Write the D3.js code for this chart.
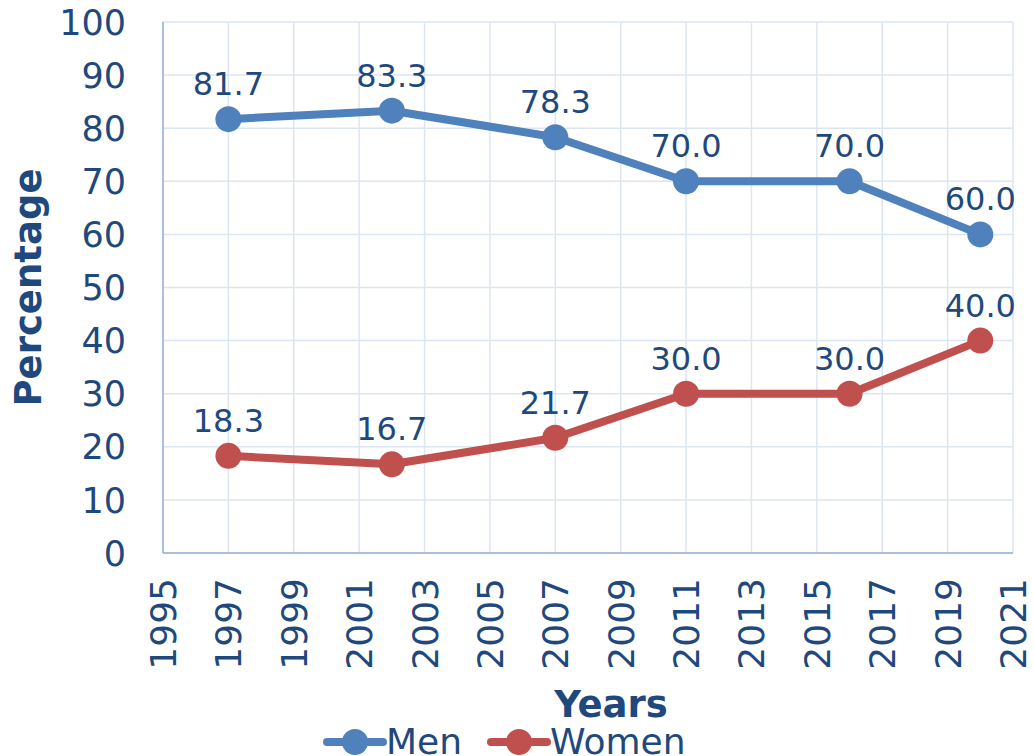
<!DOCTYPE html>
<html>
<head>
<meta charset="utf-8">
<script src="https://cdn.jsdelivr.net/npm/d3@7"></script>
<style>
  body { margin: 0; background: #fff; }
  text { font-family: 'DejaVu Sans', Verdana, sans-serif; fill: #1F497D; }
</style>
</head>
<body>
<div class="vis"></div>
<script>
'use strict';

// survey years and shares (%)
var years = [1997, 2002, 2007, 2011, 2016, 2020];
var men = [81.7, 83.3, 78.3, 70.0, 70.0, 60.0];
var women = [18.3, 16.7, 21.7, 30.0, 30.0, 40.0];
var seriesNames = ['Men', 'Women'];
var seriesColors = ['#4F81BD', '#C0504D'];
var xTicks = d3.range(1995, 2022, 2);
var yTicks = d3.range(0, 101, 10);

var width = 1034;
var height = 756;
var plot = { left: 163, top: 22, right: 1013, bottom: 553 };

var svg = d3.select('.vis')
  .append('svg')
  .attr('width', width)
  .attr('height', height);

var x = d3.scaleLinear().domain([1995, 2021]).range([plot.left, plot.right]);
var y = d3.scaleLinear().domain([0, 100]).range([plot.bottom, plot.top]);

// grid lines
var grid = svg.append('g');
grid.selectAll('.vgrid')
  .data(xTicks)
  .enter().append('line')
  .attr('x1', function(d) { return x(d); })
  .attr('x2', function(d) { return x(d); })
  .attr('y1', plot.top)
  .attr('y2', plot.bottom)
  .attr('stroke', '#DCE6F2')
  .attr('stroke-width', 1.5);
grid.selectAll('.hgrid')
  .data(yTicks)
  .enter().append('line')
  .attr('x1', plot.left)
  .attr('x2', plot.right)
  .attr('y1', function(d) { return y(d); })
  .attr('y2', function(d) { return y(d); })
  .attr('stroke', '#DCE6F2')
  .attr('stroke-width', 1.5);

// axis lines
svg.append('line')
  .attr('x1', plot.left).attr('x2', plot.left)
  .attr('y1', plot.top).attr('y2', plot.bottom)
  .attr('stroke', '#95B3D7').attr('stroke-width', 1.5);
svg.append('line')
  .attr('x1', plot.left).attr('x2', plot.right)
  .attr('y1', plot.bottom).attr('y2', plot.bottom)
  .attr('stroke', '#95B3D7').attr('stroke-width', 1.5);

// y tick labels
svg.append('g').selectAll('text')
  .data(yTicks)
  .enter().append('text')
  .attr('x', 126)
  .attr('y', function(d) { return y(d); })
  .attr('dy', '0.36em')
  .attr('text-anchor', 'end')
  .style('font-size', '35px')
  .text(function(d) { return d; });

// x tick labels, rotated
svg.append('g').selectAll('text')
  .data(xTicks)
  .enter().append('text')
  .attr('transform', function(d) { return 'translate(' + x(d) + ',578) rotate(-90)'; })
  .attr('dy', '0.36em')
  .attr('text-anchor', 'end')
  .style('font-size', '36px')
  .text(function(d) { return d; });

// axis titles
svg.append('text')
  .attr('transform', 'translate(28,' + ((plot.top + plot.bottom) / 2) + ') rotate(-90)')
  .attr('dy', '0.36em')
  .attr('text-anchor', 'middle')
  .style('font-size', '37px')
  .style('font-weight', 'bold')
  .text('Percentage');

svg.append('text')
  .attr('x', 611)
  .attr('y', 717)
  .attr('text-anchor', 'middle')
  .style('font-size', '37px')
  .style('font-weight', 'bold')
  .text('Years');

// series
var line = d3.line()
  .x(function(d) { return x(d.year); })
  .y(function(d) { return y(d.value); });

[men, women].forEach(function(values, i) {
  var data = years.map(function(yr, j) { return { year: yr, value: values[j] }; });
  var g = svg.append('g');

  g.append('path')
    .datum(data)
    .attr('d', line)
    .attr('fill', 'none')
    .attr('stroke', seriesColors[i])
    .attr('stroke-width', 8)
    .attr('stroke-linejoin', 'round');

  g.selectAll('circle')
    .data(data)
    .enter().append('circle')
    .attr('cx', function(d) { return x(d.year); })
    .attr('cy', function(d) { return y(d.value); })
    .attr('r', 13)
    .attr('fill', seriesColors[i]);

  g.selectAll('text')
    .data(data)
    .enter().append('text')
    .attr('x', function(d) { return x(d.year); })
    .attr('y', function(d) { return y(d.value) - 24; })
    .attr('text-anchor', 'middle')
    .style('font-size', '32px')
    .text(function(d) { return d.value.toFixed(1); });
});

// legend
var legendX = [327, 491];
var legend = svg.append('g');
seriesNames.forEach(function(name, i) {
  var lx = legendX[i];
  legend.append('line')
    .attr('x1', lx).attr('x2', lx + 56)
    .attr('y1', 742).attr('y2', 742)
    .attr('stroke', seriesColors[i])
    .attr('stroke-width', 8)
    .attr('stroke-linecap', 'round');
  legend.append('circle')
    .attr('cx', lx + 28).attr('cy', 742)
    .attr('r', 13)
    .attr('fill', seriesColors[i]);
  legend.append('text')
    .attr('x', lx + 59)
    .attr('y', 754)
    .style('font-size', '36px')
    .text(name);
});
</script>
</body>
</html>
